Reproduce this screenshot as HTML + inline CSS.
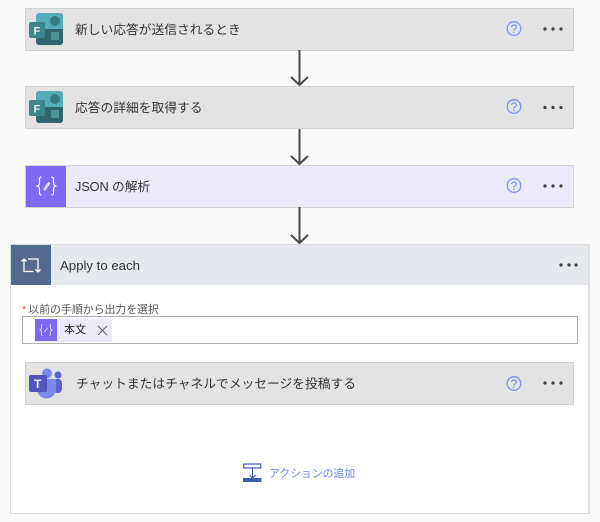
<!DOCTYPE html>
<html>
<head>
<meta charset="utf-8">
<style>
html,body{margin:0;padding:0}
body{width:600px;height:522px;position:relative;overflow:hidden;background:#fafafa;font-family:"Liberation Sans","Noto Sans CJK JP",sans-serif;color:#2f2f2f}
#w{position:absolute;left:0;top:0;width:600px;height:522px;overflow:hidden;filter:blur(0.35px)}
.card{position:absolute;box-sizing:border-box;left:25px;width:549px;height:43px;background:#e3e3e3;border:1px solid #d2d2d2}
.t{position:absolute;font-size:12.75px;line-height:18px;white-space:nowrap;color:#333}
svg{position:absolute;overflow:visible}
</style>
</head>
<body>
<div id="w">
<div class="card" style="top:8px"></div>
<div class="card" style="top:86px"></div>
<div class="card" style="top:165px;background:#ece9fb"></div>
<div style="position:absolute;left:26px;top:166px;width:40px;height:41px;background:#8069f2"></div>

<!-- loop container -->
<div style="position:absolute;box-sizing:border-box;left:10px;top:244px;width:580px;height:270px;background:#fff;border:1px solid #dcdcdc;border-right:2px solid #e2e2e2"></div>
<div style="position:absolute;left:11px;top:245px;width:577px;height:40px;background:#e5e8ed"></div>
<div style="position:absolute;left:11px;top:245px;width:40px;height:40px;background:#546a8c"></div>
<div class="card" style="top:362px;"></div>

<div class="t" style="left:75px;top:21px">新しい応答が送信されるとき</div>
<div class="t" style="left:75px;top:99px">応答の詳細を取得する</div>
<div class="t" style="left:75px;top:178px;letter-spacing:-0.1px">JSON の解析</div>
<div class="t" style="left:60px;top:257px;font-size:13.200px">Apply to each</div>
<div class="t" style="left:76px;top:375px">チャットまたはチャネルでメッセージを投稿する</div>

<!-- forms icons -->
<svg style="left:29px;top:13px" width="34" height="34" viewBox="0 0 34 34">
<rect x="7" y="0" width="27" height="20" rx="3" fill="#55aeb7"/><circle cx="26" cy="8" r="5" fill="#367c84"/>
<path d="M7 16H34V29A3 3 0 0 1 31 32H10A3 3 0 0 1 7 29Z" fill="#2d666d"/><rect x="22" y="19" width="8" height="8" fill="#4c9299"/>
<rect x="0" y="9" width="16" height="16" rx="2" fill="#3d858c"/>
<text x="4.500" y="21.500" font-size="11" font-weight="bold" fill="#e8f2f3" font-family="Liberation Sans">F</text>
</svg>
<svg style="left:29px;top:91px" width="34" height="34" viewBox="0 0 34 34">
<rect x="7" y="0" width="27" height="20" rx="3" fill="#55aeb7"/><circle cx="26" cy="8" r="5" fill="#367c84"/>
<path d="M7 16H34V29A3 3 0 0 1 31 32H10A3 3 0 0 1 7 29Z" fill="#2d666d"/><rect x="22" y="19" width="8" height="8" fill="#4c9299"/>
<rect x="0" y="9" width="16" height="16" rx="2" fill="#3d858c"/>
<text x="4.500" y="21.500" font-size="11" font-weight="bold" fill="#e8f2f3" font-family="Liberation Sans">F</text>
</svg>

<!-- json icon -->
<svg style="left:36px;top:175px" width="22" height="22" fill="none" stroke="#fff" stroke-width="1.200">
<path d="M5.500 2C3 2 3.500 4 3.500 7C3.500 9.500 3 10.500 1.500 11C3 11.500 3.500 12.500 3.500 15C3.500 18 3 20 5.500 20"/>
<path d="M15.500 2C18 2 17.500 4 17.500 7C17.500 9.500 18 10.500 19.500 11C18 11.500 17.500 12.500 17.500 15C17.500 18 18 20 15.500 20"/>
<path d="M8 14L12.500 7.500L13.500 8.500L9 15Z" stroke-width="1"/>
</svg>

<!-- loop icon -->
<svg style="left:21px;top:256px" width="20" height="18" viewBox="0 0 20 18" fill="none" stroke="#fff" stroke-width="1.300">
<path d="M3 16V3M0.500 5.500L3 3L5.500 5.500"/><path d="M7 3H17V16M14.500 13.500L17 16L19.500 13.500"/><path d="M3 15.500H12.500"/>
</svg>

<!-- teams icon -->
<svg style="left:29px;top:368px" width="34" height="32" viewBox="0 0 34 32">
<circle cx="29" cy="7" r="3.500" fill="#5a63cc"/><rect x="24" y="11" width="9" height="14" rx="4" fill="#5a63cc"/>
<circle cx="18" cy="5.500" r="5" fill="#7f87ea"/><path d="M8 11H27V21A9.500 9.500 0 0 1 8 21Z" fill="#7f87ea"/>
<rect x="0" y="7" width="18" height="17" rx="2" fill="#4f57be"/>
<text x="5" y="20" font-size="12" font-weight="bold" fill="#eef" font-family="Liberation Sans">T</text>
</svg>

<!-- help icons -->
<svg style="left:506px;top:20px" width="16" height="16"><circle cx="8" cy="8.500" r="6.800" fill="none" stroke="#7d93f5" stroke-width="1.300"/><text x="8" y="13" text-anchor="middle" font-size="12" fill="#6f87f2">?</text></svg>
<svg style="left:506px;top:98px" width="16" height="16"><circle cx="8" cy="8.500" r="6.800" fill="none" stroke="#7d93f5" stroke-width="1.300"/><text x="8" y="13" text-anchor="middle" font-size="12" fill="#6f87f2">?</text></svg>
<svg style="left:506px;top:177px" width="16" height="16"><circle cx="8" cy="8.500" r="6.800" fill="none" stroke="#7d93f5" stroke-width="1.300"/><text x="8" y="13" text-anchor="middle" font-size="12" fill="#6f87f2">?</text></svg>
<svg style="left:506px;top:375px" width="16" height="16"><circle cx="8" cy="8.500" r="6.800" fill="none" stroke="#7d93f5" stroke-width="1.300"/><text x="8" y="13" text-anchor="middle" font-size="12" fill="#6f87f2">?</text></svg>

<!-- dots -->
<svg style="left:0;top:0" width="600" height="522" fill="#3f3f3f">
<circle cx="545" cy="29" r="1.600"/><circle cx="553" cy="29" r="1.600"/><circle cx="561" cy="29" r="1.600"/>
<circle cx="545" cy="107.500" r="1.600"/><circle cx="553" cy="107.500" r="1.600"/><circle cx="561" cy="107.500" r="1.600"/>
<circle cx="545" cy="186" r="1.600"/><circle cx="553" cy="186" r="1.600"/><circle cx="561" cy="186" r="1.600"/>
<circle cx="561" cy="265" r="1.600"/><circle cx="569" cy="265" r="1.600"/><circle cx="576" cy="265" r="1.600"/>
<circle cx="545" cy="383" r="1.600"/><circle cx="553" cy="383" r="1.600"/><circle cx="561" cy="383" r="1.600"/>
<!-- arrows -->
<g fill="none" stroke="#484848" stroke-width="2">
<path d="M299.500 50V85M291 77L299.500 85L308 77"/>
<path d="M299.500 129V164M291 156L299.500 164L308 156"/>
<path d="M299.500 207V243M291 235L299.500 243L308 235"/>
</g>
</svg>

<!-- input -->
<div class="t" style="left:22px;top:302px;font-size:10.900px;line-height:16px;color:#555"><span style="color:#d9534f;margin-right:2px">*</span>以前の手順から出力を選択</div>
<div style="position:absolute;box-sizing:border-box;left:22px;top:316px;width:556px;height:28px;background:#fff;border:1.500px solid #b0b0b0"></div>
<div style="position:absolute;left:35px;top:319px;width:77px;height:23px;background:#ece9fb"></div>
<div style="position:absolute;left:35px;top:319px;width:22px;height:22px;background:#8069f2"></div>
<svg style="left:39px;top:323px" width="14" height="14" fill="none" stroke="#dcd6ff" stroke-width="0.900">
<path d="M3.500 1.500C2 1.500 2.500 3 2.500 5C2.500 6 2 6.500 1 7C2 7.500 2.500 8 2.500 9C2.500 11 2 12.500 3.500 12.500"/>
<path d="M10.500 1.500C12 1.500 11.500 3 11.500 5C11.500 6 12 6.500 13 7C12 7.500 11.500 8 11.500 9C11.500 11 12 12.500 10.500 12.500"/>
<path d="M5.500 9L8.500 5"/>
</svg>
<div class="t" style="left:64px;top:322px;font-size:11px;line-height:16px;color:#222">本文</div>
<svg style="left:97px;top:325px" width="11" height="11"><path d="M1 1L10 10M10 1L1 10" stroke="#666" stroke-width="1.100"/></svg>

<!-- add action -->
<svg style="left:243px;top:463px" width="20" height="20" fill="none">
<rect x="0.800" y="1" width="17" height="4" stroke="#3f5cae" stroke-width="1.200"/>
<path d="M9.500 5V15M6.500 12L9.500 15L12.500 12" stroke="#3f5cae" stroke-width="1"/>
<rect x="0" y="15" width="18.500" height="4" fill="#3f5cae"/>
</svg>
<div class="t" style="left:269px;top:465.500px;font-size:10.850px;line-height:16px;color:#6f84ea">アクションの追加</div>
</div>
</body>
</html>
